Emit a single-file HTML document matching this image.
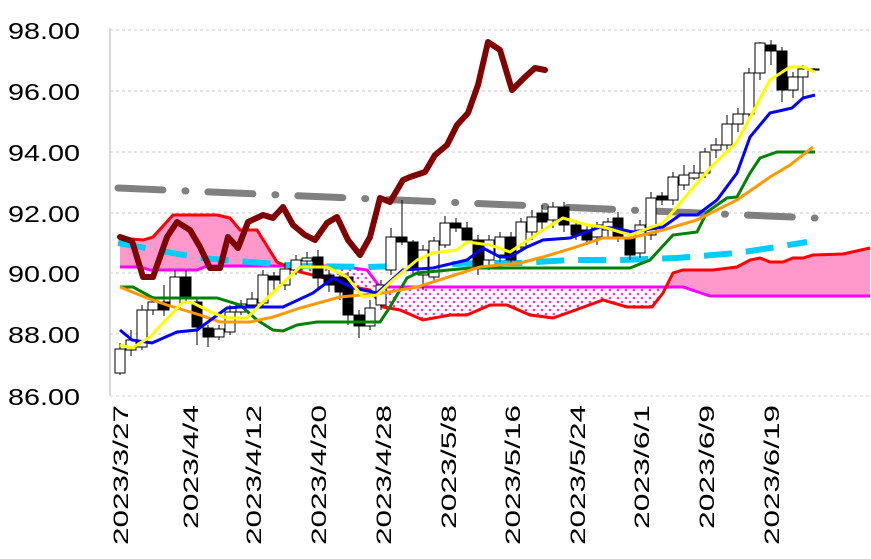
<!DOCTYPE html>
<html><head><meta charset="utf-8"><style>
body{margin:0;background:#fff;}
svg{display:block;font-family:"Liberation Sans",sans-serif;}
</style></head><body>
<svg width="871" height="559" viewBox="0 0 871 559" xmlns="http://www.w3.org/2000/svg">
<defs>
<pattern id="dots" width="8" height="8" patternUnits="userSpaceOnUse">
<rect width="8" height="8" fill="#fff"/><circle cx="2" cy="2" r="1.3" fill="#ff33cc"/><circle cx="6" cy="6" r="1.3" fill="#ff33cc"/></pattern>
<clipPath id="c1"><rect x="100" y="0" width="178" height="559"/></clipPath>
<clipPath id="c2"><rect x="278" y="0" width="388" height="559"/></clipPath>
<clipPath id="c3"><rect x="666" y="0" width="220" height="559"/></clipPath>
</defs>
<g stroke="#c8c8c8" stroke-dasharray="3,3" stroke-width="1">
<line x1="110" y1="30" x2="871" y2="30"/><line x1="110" y1="91" x2="871" y2="91"/><line x1="110" y1="152" x2="871" y2="152"/><line x1="110" y1="213" x2="871" y2="213"/><line x1="110" y1="273" x2="871" y2="273"/><line x1="110" y1="334" x2="871" y2="334"/>
</g>
<line x1="110" y1="396" x2="871" y2="396" stroke="#d0d0d0" stroke-dasharray="3,3"/>
<line x1="110" y1="28" x2="110" y2="396" stroke="#d9d9d9" stroke-width="2"/>
<g font-size="23" fill="#000">
<text x="8" y="39" textLength="72" lengthAdjust="spacingAndGlyphs">98.00</text><text x="8" y="100" textLength="72" lengthAdjust="spacingAndGlyphs">96.00</text><text x="8" y="161" textLength="72" lengthAdjust="spacingAndGlyphs">94.00</text><text x="8" y="222" textLength="72" lengthAdjust="spacingAndGlyphs">92.00</text><text x="8" y="282" textLength="72" lengthAdjust="spacingAndGlyphs">90.00</text><text x="8" y="343" textLength="72" lengthAdjust="spacingAndGlyphs">88.00</text><text x="8" y="405" textLength="72" lengthAdjust="spacingAndGlyphs">86.00</text>
</g>
<g font-size="21" text-anchor="end" fill="#000">
<text transform="translate(128,405) rotate(-90)" textLength="140" lengthAdjust="spacingAndGlyphs">2023/3/27</text>
<text transform="translate(198,405) rotate(-90)" textLength="124" lengthAdjust="spacingAndGlyphs">2023/4/4</text>
<text transform="translate(261,405) rotate(-90)" textLength="140" lengthAdjust="spacingAndGlyphs">2023/4/12</text>
<text transform="translate(326,405) rotate(-90)" textLength="140" lengthAdjust="spacingAndGlyphs">2023/4/20</text>
<text transform="translate(391,405) rotate(-90)" textLength="140" lengthAdjust="spacingAndGlyphs">2023/4/28</text>
<text transform="translate(456,405) rotate(-90)" textLength="124" lengthAdjust="spacingAndGlyphs">2023/5/8</text>
<text transform="translate(520,405) rotate(-90)" textLength="140" lengthAdjust="spacingAndGlyphs">2023/5/16</text>
<text transform="translate(585,405) rotate(-90)" textLength="140" lengthAdjust="spacingAndGlyphs">2023/5/24</text>
<text transform="translate(649,405) rotate(-90)" textLength="124" lengthAdjust="spacingAndGlyphs">2023/6/1</text>
<text transform="translate(714,405) rotate(-90)" textLength="124" lengthAdjust="spacingAndGlyphs">2023/6/9</text>
<text transform="translate(779,405) rotate(-90)" textLength="140" lengthAdjust="spacingAndGlyphs">2023/6/19</text>
</g>
<g id="cloud">
<polygon clip-path="url(#c1)" fill="#ff99cc" points="120,238 143,240 153,237 173,215 217,215 230,218 240,230 257,230 277,262 300,272 300,266 207,266 197,270 150,270 140,267 120,267"/>
<polygon clip-path="url(#c2)" fill="url(#dots)" points="277,262 300,272 333,280 353,287 370,290 383,307 400,310 423,320 450,315 467,315 490,305 507,305 530,315 553,318 570,312 603,300 627,307 652,307 663,293 673,273 683,287 380,287 367,270 340,266 277,266"/>
<polygon clip-path="url(#c3)" fill="#ff99cc" points="663,293 673,273 683,270 713,270 737,267 750,260 760,258 770,262 783,262 793,258 803,258 813,255 843,254 870,248 870,296 710,296 683,287 663,287"/>
</g>
<polyline fill="none" stroke="#ff00ff" stroke-width="3" points="120,267 140,267 150,270 197,270 207,266 340,266 367,270 380,287 683,287 710,296 870,296"/>
<polyline fill="none" stroke="#ff0000" stroke-width="3" points="120,238 143,240 153,237 173,215 217,215 230,218 240,230 257,230 277,262 300,272 333,280 353,287 370,290 383,307 400,310 423,320 450,315 467,315 490,305 507,305 530,315 553,318 570,312 603,300 627,307 652,307 663,293 673,273 683,270 713,270 737,267 750,260 760,258 770,262 783,262 793,258 803,258 813,255 843,254 870,248"/>
<polyline fill="none" stroke="#808080" stroke-width="7" stroke-linecap="round" stroke-dasharray="45,22,1,22" points="118,188 815,218"/>
<polyline fill="none" stroke="#00ccff" stroke-width="6" stroke-dasharray="28,14" points="118,243 167,252 200,258 250,262 300,266 367,267 433,265 480,263 520,263 570,260 620,260 677,258 737,253 770,248 807,242"/>
<g stroke="#000" stroke-width="1">
<line x1="120" y1="343" x2="120" y2="375"/><rect x="115" y="349" width="10" height="24" fill="#fff"/>
<line x1="131" y1="330" x2="131" y2="356"/><rect x="126" y="340" width="10" height="10" fill="#fff"/>
<line x1="142" y1="305" x2="142" y2="350"/><rect x="137" y="310" width="10" height="37" fill="#fff"/>
<line x1="153" y1="296" x2="153" y2="315"/><rect x="148" y="302" width="10" height="8" fill="#fff"/>
<line x1="164" y1="285" x2="164" y2="316"/><rect x="159" y="302" width="10" height="8" fill="#000"/>
<line x1="175" y1="270" x2="175" y2="312"/><rect x="170" y="277" width="10" height="30" fill="#fff"/>
<line x1="186" y1="270" x2="186" y2="303"/><rect x="181" y="277" width="10" height="20" fill="#000"/>
<line x1="197" y1="298" x2="197" y2="345"/><rect x="192" y="302" width="10" height="25" fill="#000"/>
<line x1="208" y1="325" x2="208" y2="347"/><rect x="203" y="328" width="10" height="9" fill="#000"/>
<line x1="219" y1="325" x2="219" y2="340"/><rect x="214" y="329" width="10" height="8" fill="#fff"/>
<line x1="230" y1="305" x2="230" y2="335"/><rect x="225" y="312" width="10" height="20" fill="#fff"/>
<line x1="241" y1="300" x2="241" y2="315"/><rect x="236" y="304" width="10" height="8" fill="#fff"/>
<line x1="252" y1="292" x2="252" y2="308"/><rect x="247" y="299" width="10" height="6" fill="#fff"/>
<line x1="263" y1="270" x2="263" y2="306"/><rect x="258" y="275" width="10" height="28" fill="#fff"/>
<line x1="274" y1="272" x2="274" y2="290"/><rect x="269" y="276" width="10" height="4" fill="#000"/>
<line x1="285" y1="263" x2="285" y2="290"/><rect x="280" y="269" width="10" height="16" fill="#fff"/>
<line x1="296" y1="255" x2="296" y2="275"/><rect x="291" y="260" width="10" height="10" fill="#fff"/>
<line x1="307" y1="252" x2="307" y2="265"/><rect x="302" y="258" width="10" height="3" fill="#fff"/>
<line x1="318" y1="250" x2="318" y2="290"/><rect x="313" y="257" width="10" height="21" fill="#000"/>
<line x1="329" y1="270" x2="329" y2="292"/><rect x="324" y="275" width="10" height="10" fill="#000"/>
<line x1="340" y1="272" x2="340" y2="300"/><rect x="335" y="277" width="10" height="15" fill="#000"/>
<line x1="348" y1="272" x2="348" y2="325"/><rect x="343" y="277" width="10" height="38" fill="#000"/>
<line x1="359" y1="310" x2="359" y2="338"/><rect x="354" y="315" width="10" height="11" fill="#000"/>
<line x1="370" y1="300" x2="370" y2="330"/><rect x="365" y="308" width="10" height="18" fill="#fff"/>
<line x1="381" y1="280" x2="381" y2="310"/><rect x="376" y="285" width="10" height="20" fill="#fff"/>
<line x1="391" y1="228" x2="391" y2="275"/><rect x="386" y="237" width="10" height="33" fill="#fff"/>
<line x1="402" y1="200" x2="402" y2="245"/><rect x="397" y="237" width="10" height="5" fill="#000"/>
<line x1="413" y1="240" x2="413" y2="275"/><rect x="408" y="242" width="10" height="28" fill="#000"/>
<line x1="423" y1="245" x2="423" y2="290"/><rect x="418" y="250" width="10" height="25" fill="#fff"/>
<line x1="434" y1="237" x2="434" y2="282"/><rect x="429" y="241" width="10" height="36" fill="#fff"/>
<line x1="445" y1="216" x2="445" y2="248"/><rect x="440" y="223" width="10" height="22" fill="#fff"/>
<line x1="456" y1="218" x2="456" y2="232"/><rect x="451" y="223" width="10" height="5" fill="#000"/>
<line x1="467" y1="222" x2="467" y2="244"/><rect x="462" y="228" width="10" height="12" fill="#000"/>
<line x1="478" y1="235" x2="478" y2="275"/><rect x="473" y="240" width="10" height="27" fill="#000"/>
<line x1="489" y1="235" x2="489" y2="270"/><rect x="484" y="240" width="10" height="20" fill="#fff"/>
<line x1="500" y1="232" x2="500" y2="262"/><rect x="495" y="237" width="10" height="18" fill="#fff"/>
<line x1="511" y1="232" x2="511" y2="265"/><rect x="506" y="237" width="10" height="23" fill="#000"/>
<line x1="521" y1="218" x2="521" y2="252"/><rect x="516" y="222" width="10" height="25" fill="#fff"/>
<line x1="532" y1="210" x2="532" y2="240"/><rect x="527" y="217" width="10" height="15" fill="#fff"/>
<line x1="542" y1="205" x2="542" y2="230"/><rect x="537" y="213" width="10" height="9" fill="#000"/>
<line x1="553" y1="202" x2="553" y2="228"/><rect x="548" y="207" width="10" height="13" fill="#fff"/>
<line x1="564" y1="202" x2="564" y2="232"/><rect x="559" y="207" width="10" height="18" fill="#000"/>
<line x1="576" y1="220" x2="576" y2="240"/><rect x="571" y="225" width="10" height="10" fill="#000"/>
<line x1="587" y1="225" x2="587" y2="245"/><rect x="582" y="230" width="10" height="10" fill="#000"/>
<line x1="597" y1="222" x2="597" y2="245"/><rect x="592" y="225" width="10" height="12" fill="#fff"/>
<line x1="608" y1="218" x2="608" y2="238"/><rect x="603" y="222" width="10" height="8" fill="#fff"/>
<line x1="618" y1="212" x2="618" y2="242"/><rect x="613" y="218" width="10" height="19" fill="#000"/>
<line x1="630" y1="232" x2="630" y2="260"/><rect x="625" y="237" width="10" height="18" fill="#000"/>
<line x1="640" y1="220" x2="640" y2="258"/><rect x="635" y="225" width="10" height="28" fill="#fff"/>
<line x1="651" y1="192" x2="651" y2="240"/><rect x="646" y="198" width="10" height="37" fill="#fff"/>
<line x1="662" y1="192" x2="662" y2="205"/><rect x="657" y="196" width="10" height="4" fill="#000"/>
<line x1="673" y1="172" x2="673" y2="205"/><rect x="668" y="177" width="10" height="23" fill="#fff"/>
<line x1="684" y1="165" x2="684" y2="190"/><rect x="679" y="175" width="10" height="10" fill="#fff"/>
<line x1="694" y1="165" x2="694" y2="180"/><rect x="689" y="173" width="10" height="5" fill="#fff"/>
<line x1="705" y1="148" x2="705" y2="178"/><rect x="700" y="152" width="10" height="21" fill="#fff"/>
<line x1="716" y1="138" x2="716" y2="158"/><rect x="711" y="145" width="10" height="5" fill="#fff"/>
<line x1="727" y1="115" x2="727" y2="150"/><rect x="722" y="124" width="10" height="21" fill="#fff"/>
<line x1="738" y1="108" x2="738" y2="132"/><rect x="733" y="114" width="10" height="10" fill="#fff"/>
<line x1="749" y1="68" x2="749" y2="120"/><rect x="744" y="73" width="10" height="41" fill="#fff"/>
<line x1="760" y1="42" x2="760" y2="80"/><rect x="755" y="43" width="10" height="30" fill="#fff"/>
<line x1="771" y1="40" x2="771" y2="65"/><rect x="766" y="45" width="10" height="6" fill="#000"/>
<line x1="782" y1="47" x2="782" y2="102"/><rect x="777" y="51" width="10" height="39" fill="#000"/>
<line x1="793" y1="72" x2="793" y2="98"/><rect x="788" y="77" width="10" height="13" fill="#fff"/>
<line x1="803" y1="65" x2="803" y2="98"/><rect x="798" y="69" width="10" height="8" fill="#fff"/>
<line x1="814" y1="68" x2="814" y2="72"/><rect x="809" y="69" width="10" height="1" fill="#000"/>
</g>
<polyline fill="none" stroke="#008000" stroke-width="3" points="120,287 133,287 153,298 217,298 240,305 257,320 273,330 283,331 297,325 317,322 380,322 390,307 407,278 417,273 470,268 630,268 650,260 673,235 697,232 707,212 727,198 737,197 750,173 760,158 777,152 815,152"/>
<polyline fill="none" stroke="#ff9900" stroke-width="3" points="120,287 147,298 167,305 200,315 220,322 250,322 273,317 300,308 340,297 383,293 417,287 480,267 520,263 543,257 573,248 603,238 630,238 663,230 697,220 737,200 770,177 790,165 813,147"/>
<polyline fill="none" stroke="#0000ff" stroke-width="3" points="120,330 132,340 152,343 177,332 197,330 227,308 240,307 283,307 313,293 333,278 353,288 377,293 403,270 433,268 467,260 483,248 500,257 510,257 527,247 543,240 570,238 600,227 613,228 633,232 663,227 680,215 697,215 717,200 737,173 750,137 770,113 792,108 803,98 815,95"/>
<polyline fill="none" stroke="#ffff00" stroke-width="3" points="120,345 132,348 150,337 183,302 193,303 213,313 227,318 247,318 260,305 300,267 327,267 347,277 363,297 377,295 393,280 417,260 433,253 457,250 467,242 490,245 510,252 543,230 563,218 587,225 603,227 630,235 663,223 677,207 697,183 713,165 737,142 753,112 770,80 790,67 803,67 815,72"/>
<polyline fill="none" stroke="#800000" stroke-width="6" stroke-linejoin="round" stroke-linecap="round" points="120,237 132,241 143,277 153,277 167,237 177,222 190,230 200,247 210,268 220,268 228,237 238,248 248,222 263,215 273,218 283,207 293,225 305,235 315,240 327,223 337,217 348,240 360,255 370,237 380,198 390,202 403,180 410,177 425,172 435,155 447,145 457,125 468,113 478,85 488,42 500,50 512,90 525,77 535,68 545,70"/>
</svg>
</body></html>
